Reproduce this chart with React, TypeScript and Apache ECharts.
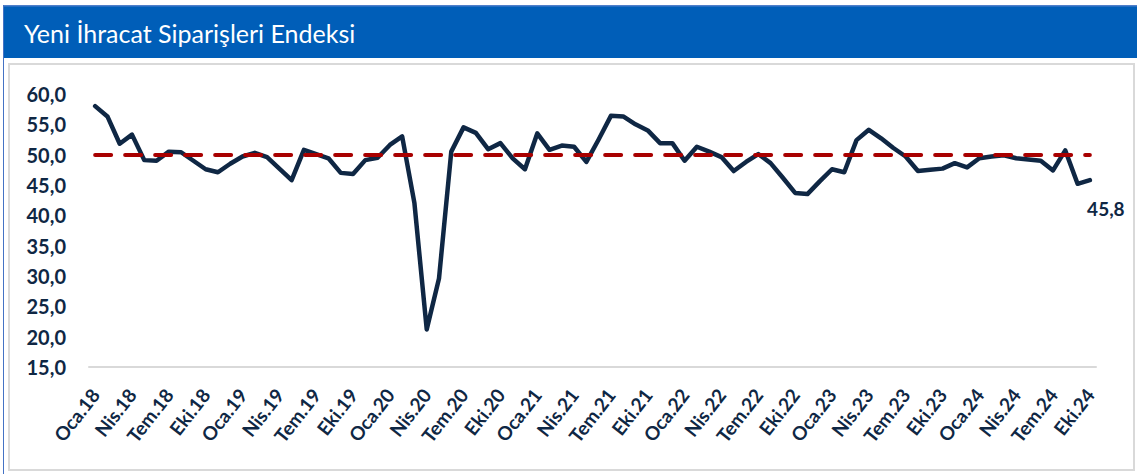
import React, { useEffect, useRef } from "react";
import * as echarts from "echarts";

const monthNames = ["Oca", "Şub", "Mar", "Nis", "May", "Haz", "Tem", "Ağu", "Eyl", "Eki", "Kas", "Ara"];
const years = ["18", "19", "20", "21", "22", "23", "24"];
const lastMonthIndex = 9; // Eki.24

const categories: string[] = [];
years.forEach((y, yi) => {
  monthNames.forEach((m, mi) => {
    if (yi === years.length - 1 && mi > lastMonthIndex) return;
    categories.push(`${m}.${y}`);
  });
});

const indexValues = [
  58.0, 56.3, 51.8, 53.3, 49.1, 49.0, 50.5, 50.4, 49.0, 47.6, 47.1, 48.5,
  49.7, 50.3, 49.6, 47.7, 45.8, 50.8, 50.1, 49.4, 47.0, 46.8, 49.1, 49.5,
  51.6, 53.0, 42.0, 21.2, 29.6, 50.5, 54.5, 53.6, 50.9, 51.9, 49.4, 47.6,
  53.5, 50.8, 51.5, 51.3, 48.8, 52.5, 56.4, 56.3, 55.0, 54.0, 51.9, 51.9,
  49.0, 51.3, 50.5, 49.6, 47.3, 48.8, 50.1, 48.6, 46.2, 43.7, 43.5, 45.6,
  47.6, 47.1, 52.4, 54.1, 52.7, 51.1, 49.7, 47.3, 47.5, 47.7, 48.6, 47.9,
  49.4, 49.7, 49.9, 49.4, 49.2, 49.0, 47.4, 50.7, 45.2, 45.8,
];

const thresholdValue = 50;
const yTicks = { min: 15, max: 60, interval: 5 };
const titleText = "Yeni İhracat Siparişleri Endeksi";

const fmt = (v: number) => v.toFixed(1).replace(".", ",");

export default function App() {
  const ref = useRef<HTMLDivElement>(null);

  useEffect(() => {
    if (!ref.current) return;
    const chart = echarts.init(ref.current, null, { renderer: "svg" });
    const last = indexValues.length - 1;
    const navy = "#0f2744";
    const font = "Lato";

    chart.setOption({
      animation: false,
      backgroundColor: "#ffffff",
      graphic: [
        {
          type: "rect",
          shape: { x: 3, y: 5, width: 1134, height: 53 },
          style: { fill: "#005eb8" },
          silent: true,
        },
        {
          type: "rect",
          shape: { x: 3, y: 5, width: 1134, height: 1.5 },
          style: { fill: "#4f7fca" },
          silent: true,
        },
        {
          type: "line",
          shape: { x1: 3.5, y1: 5, x2: 3.5, y2: 474 },
          style: { stroke: "#4472c4", lineWidth: 1 },
          silent: true,
        },
        {
          type: "rect",
          shape: { x: 9, y: 64, width: 1125, height: 406 },
          style: { fill: "none", stroke: "#d9d9d9", lineWidth: 2 },
          silent: true,
        },
        {
          type: "text",
          x: 24,
          y: 33,
          style: {
            text: titleText,
            fill: "#ffffff",
            font: `25px ${font}`,
            verticalAlign: "middle",
            align: "left",
          },
          silent: true,
        },
      ],
      grid: { left: 89, right: 41, top: 94, bottom: 107, containLabel: false },
      xAxis: {
        type: "category",
        data: categories,
        boundaryGap: true,
        axisLine: { show: true, lineStyle: { color: "#d9d9d9", width: 2 } },
        axisTick: { show: false },
        axisLabel: {
          interval: 2,
          rotate: 52,
          margin: 24,
          color: navy,
          fontFamily: font,
          fontWeight: "bold",
          fontSize: 19,
        },
        splitLine: { show: false },
      },
      yAxis: {
        type: "value",
        min: yTicks.min,
        max: yTicks.max,
        interval: yTicks.interval,
        axisLine: { show: false },
        axisTick: { show: false },
        splitLine: { show: false },
        axisLabel: {
          formatter: (v: number) => fmt(v),
          color: navy,
          fontFamily: font,
          fontWeight: "bold",
          fontSize: 20,
          margin: 23,
        },
      },
      series: [
        {
          name: "Yeni İhracat Siparişleri Endeksi",
          type: "line",
          symbol: "none",
          data: indexValues,
          lineStyle: { color: navy, width: 4.5, join: "round", cap: "round" },
          endLabel: {
            show: true,
            formatter: () => fmt(indexValues[last]),
            color: navy,
            fontFamily: font,
            fontWeight: "bold",
            fontSize: 19,
            align: "center",
            verticalAlign: "middle",
            distance: 0,
            offset: [16, 28],
          },
          markLine: {
            silent: true,
            symbol: ["none", "none"],
            label: { show: false },
            lineStyle: {
              color: "#a80000",
              width: 4,
              type: [16, 14],
              cap: "round",
            },
            data: [
              [
                { coord: [categories[0], thresholdValue] },
                { coord: [categories[last], thresholdValue] },
              ],
            ],
          },
          z: 3,
        },
      ],
    });

    return () => chart.dispose();
  }, []);

  return (
    <div style={{ position: "absolute", left: 0, top: 0, width: 1137, height: 474, background: "#fff" }}>
      <div ref={ref} style={{ width: 1137, height: 474 }} />
    </div>
  );
}
